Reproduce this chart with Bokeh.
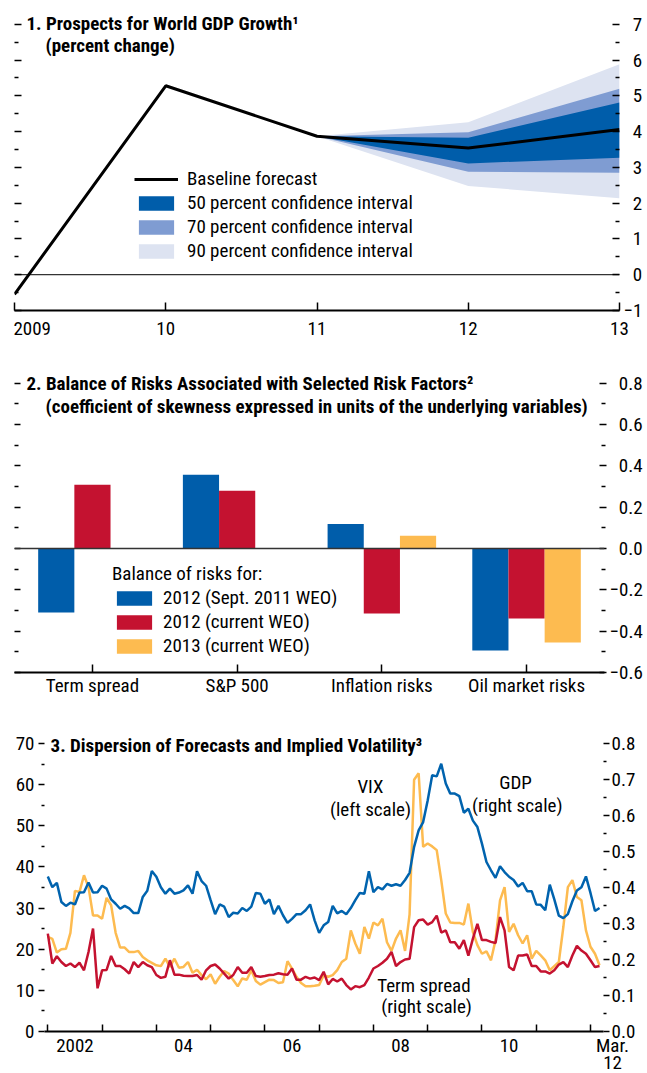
import numpy as np
from bokeh.plotting import figure
from bokeh.models import (Range1d, LinearAxis, CategoricalAxis, FixedTicker, Label, Legend,
                          LegendItem, ColumnDataSource, FactorRange, Span)
from bokeh.embed import file_html
from bokeh.resources import INLINE
from bokeh.transform import dodge

try:
    from bokeh.models import GlobalInlineStyleSheet
    PAGE_SHEETS = [GlobalInlineStyleSheet(css="html, body { overflow: hidden; }")]
except ImportError:
    PAGE_SHEETS = []

FONT = "Roboto Condensed"
FS = "19px"

# ---------------- Panel 1 data ----------------
years1 = [2009, 2010, 2011, 2012, 2013]
year_labels1 = ["\u2007\u20092009", "10", "11", "12", "13"]
baseline = [-0.55, 5.28, 3.87, 3.54, 4.06]
band_years = [2011, 2012, 2013]
ci50_low = [3.87, 3.11, 3.27]
ci50_high = [3.87, 3.83, 4.81]
ci70_low = [3.87, 2.88, 2.85]
ci70_high = [3.87, 3.98, 5.20]
ci90_low = [3.87, 2.48, 2.14]
ci90_high = [3.87, 4.26, 5.88]
ticks1 = [-1, 0, 1, 2, 3, 4, 5, 6, 7]
tick_labels1 = ["\u22121", "\u20070", "\u20071", "\u20072", "\u20073", "\u20074", "\u20075", "\u20076", "\u20077"]
minor1 = [-0.5, 0.5, 1.5, 2.5, 3.5, 4.5, 5.5, 6.5]

# ---------------- Panel 2 data ----------------
cats = ["Term spread", "S&P 500", "Inflation risks", "Oil market risks"]
sept2011_for_2012 = [-0.31, 0.357, 0.119, -0.493]
current_for_2012 = [0.308, 0.279, -0.314, -0.339]
current_for_2013 = [np.nan, np.nan, 0.061, -0.455]
ticks2 = [-0.6, -0.4, -0.2, 0.0, 0.2, 0.4, 0.6, 0.8]
tick_labels2 = ["\u22120.6", "\u22120.4", "\u22120.2", "\u20070.0", "\u20070.2", "\u20070.4", "\u20070.6", "\u20070.8"]
minor2 = [-0.5, -0.3, -0.1, 0.1, 0.3, 0.5, 0.7]

# ---------------- Panel 3 data (monthly, Jan 2002 - Mar 2012) ----------------
vix = [
    23.0, 22.5, 19.2, 20.0, 20.1, 24.0, 34.2, 33.9, 38.0, 35.1, 28.2, 28.2,   # 2002
    27.4, 32.5, 30.7, 24.0, 20.4, 20.4, 19.3, 19.3, 19.6, 18.1, 17.3, 16.7,   # 2003
    16.1, 15.9, 17.7, 15.7, 17.7, 15.5, 15.7, 16.9, 14.3, 15.0, 13.7, 12.7,   # 2004
    13.9, 11.6, 13.3, 14.7, 14.1, 12.5, 11.0, 12.9, 12.6, 14.9, 12.3, 11.4,   # 2005
    12.0, 12.6, 12.5, 11.8, 12.0, 17.1, 15.3, 13.3, 11.8, 11.0, 11.0, 11.1,   # 2006
    11.3, 13.7, 13.3, 13.7, 14.9, 16.9, 17.7, 24.6, 21.4, 18.9, 25.4, 22.6,   # 2007
    26.5, 25.8, 27.4, 21.7, 19.6, 22.6, 24.6, 19.6, 28.5, 61.2, 62.8, 44.9,   # 2008
    45.7, 45.0, 44.1, 36.8, 28.7, 26.5, 26.4, 26.4, 26.0, 31.1, 24.2, 21.0,   # 2009
    18.9, 19.5, 17.3, 22.2, 31.9, 35.1, 24.2, 26.2, 23.4, 21.4, 23.4, 17.7,   # 2010
    19.6, 18.5, 17.3, 14.9, 15.9, 16.9, 25.4, 35.1, 36.8, 32.7, 31.9, 24.6,   # 2011
    20.6, 18.9, 16.1,                                                         # 2012
]
gdp_dispersion = [
    0.431, 0.401, 0.413, 0.360, 0.349, 0.358, 0.353, 0.386, 0.387, 0.414, 0.386, 0.387,
    0.405, 0.397, 0.367, 0.355, 0.341, 0.349, 0.342, 0.329, 0.329, 0.374, 0.391, 0.446,
    0.430, 0.401, 0.383, 0.397, 0.383, 0.386, 0.392, 0.406, 0.383, 0.445, 0.418, 0.405,
    0.365, 0.326, 0.353, 0.347, 0.318, 0.330, 0.328, 0.343, 0.335, 0.347, 0.385, 0.383,
    0.355, 0.367, 0.326, 0.349, 0.323, 0.302, 0.313, 0.326, 0.326, 0.337, 0.353, 0.309,
    0.274, 0.295, 0.304, 0.349, 0.328, 0.335, 0.326, 0.343, 0.365, 0.385, 0.383, 0.445,
    0.387, 0.401, 0.395, 0.410, 0.405, 0.409, 0.405, 0.421, 0.441, 0.513, 0.559, 0.582,
    0.642, 0.712, 0.709, 0.744, 0.689, 0.661, 0.661, 0.654, 0.608, 0.619, 0.586, 0.568,
    0.522, 0.471, 0.448, 0.427, 0.459, 0.443, 0.430, 0.421, 0.403, 0.413, 0.390, 0.390,
    0.353, 0.352, 0.337, 0.408, 0.367, 0.322, 0.315, 0.326, 0.362, 0.392, 0.401, 0.431,
    0.385, 0.335, 0.343,
]
term_spread_dispersion = [
    0.272, 0.189, 0.209, 0.193, 0.182, 0.189, 0.179, 0.191, 0.170, 0.221, 0.286, 0.120,
    0.170, 0.171, 0.210, 0.182, 0.182, 0.173, 0.161, 0.193, 0.179, 0.193, 0.184, 0.179,
    0.157, 0.149, 0.152, 0.198, 0.158, 0.158, 0.155, 0.154, 0.154, 0.157, 0.144, 0.170,
    0.182, 0.186, 0.175, 0.161, 0.147, 0.157, 0.179, 0.163, 0.163, 0.179, 0.154, 0.152,
    0.154, 0.157, 0.158, 0.162, 0.159, 0.158, 0.175, 0.144, 0.144, 0.152, 0.147, 0.150,
    0.143, 0.166, 0.131, 0.146, 0.139, 0.147, 0.129, 0.117, 0.126, 0.123, 0.129, 0.150,
    0.175, 0.182, 0.191, 0.202, 0.221, 0.182, 0.193, 0.200, 0.202, 0.290, 0.309, 0.311,
    0.297, 0.304, 0.322, 0.275, 0.281, 0.248, 0.248, 0.230, 0.254, 0.211, 0.258, 0.299,
    0.254, 0.254, 0.249, 0.246, 0.318, 0.281, 0.179, 0.170, 0.211, 0.211, 0.214, 0.182,
    0.182, 0.167, 0.167, 0.161, 0.170, 0.186, 0.193, 0.179, 0.211, 0.238, 0.225, 0.216,
    0.198, 0.179, 0.182,
]
months3 = [2002 + i / 12.0 for i in range(len(vix))]
year_ticks3 = [2002, 2003, 2004, 2005, 2006, 2007, 2008, 2009, 2010, 2011, 2012]
label_pos3 = [2002.5, 2004.5, 2006.5, 2008.5, 2010.5, 2012.235]
label_txt3 = ["2002", "04", "06", "08", "10", "\u2007\u2007Mar.\n\u2007\u200712"]
left_ticks3 = [0, 10, 20, 30, 40, 50, 60, 70]
left_minor3 = [5, 15, 25, 35, 45, 55, 65]
right_ticks3 = [0.0, 0.1, 0.2, 0.3, 0.4, 0.5, 0.6, 0.7, 0.8]
right_labels3 = ["0.0", "0.1", "0.2", "0.3", "0.4", "0.5", "0.6", "0.7", "0.8"]
right_minor3 = [0.05, 0.15, 0.25, 0.35, 0.45, 0.55, 0.65, 0.75]

# colours
DARK = "#005DAA"
MID = "#7F9CD2"
LIGHT = "#DDE3F1"
RED = "#C41230"
YEL = "#FDBB50"
BLUE_L = "#0063AE"


def base_fig(**kw):
    p = figure(output_backend="svg", toolbar_location=None, x_axis_location=None,
               y_axis_location=None, **kw)
    p.outline_line_color = None
    p.grid.visible = False
    p.background_fill_color = "white"
    p.border_fill_color = "white"
    return p


def style_axis(ax, size=FS):
    ax.major_label_text_font = FONT
    ax.major_label_text_font_size = size
    ax.major_label_text_color = "black"
    ax.major_tick_line_color = "black"
    ax.minor_tick_line_color = "black"
    ax.axis_line_color = "black"
    return ax


def side_axis(ticks, minor, labels, tin, tout, min_in, min_out, standoff, **kw):
    ax = style_axis(LinearAxis(ticker=FixedTicker(ticks=ticks, minor_ticks=minor),
                               major_label_overrides=dict(zip(ticks, labels)), **kw))
    ax.axis_line_alpha = 0
    ax.major_tick_in = tin
    ax.major_tick_out = tout
    ax.minor_tick_in = min_in
    ax.minor_tick_out = min_out
    ax.major_label_standoff = standoff
    ax.major_tick_line_width = 1.3
    ax.minor_tick_line_width = 1.3
    return ax


def txt(p, x, y, s, bold=False, size=FS, align="left", baseline="middle"):
    p.add_layout(Label(x=x, y=y, text=s, text_font=FONT, text_font_size=size,
                       text_font_style="bold" if bold else "normal", text_align=align,
                       text_baseline=baseline, text_color="black"))

# ================= Panel 1 =================
p1 = base_fig(width=647, height=350, x_range=Range1d(2009, 2013), y_range=Range1d(-1, 7.3),
              min_border_left=14, min_border_right=28, min_border_top=13, min_border_bottom=40)
if PAGE_SHEETS:
    p1.stylesheets = PAGE_SHEETS

r90 = p1.varea(x=band_years, y1=ci90_low, y2=ci90_high, fill_color=LIGHT)
r70 = p1.varea(x=band_years, y1=ci70_low, y2=ci70_high, fill_color=MID)
r50 = p1.varea(x=band_years, y1=ci50_low, y2=ci50_high, fill_color=DARK)
p1.add_layout(Span(location=0, dimension="width", line_color="black", line_width=1))
rl = p1.line(years1, baseline, line_color="black", line_width=3)

xa1 = style_axis(LinearAxis(ticker=FixedTicker(ticks=years1, minor_ticks=[]),
                            major_label_overrides=dict(zip(years1, year_labels1))))
xa1.major_tick_in = 8
xa1.major_tick_out = 0
xa1.axis_line_width = 2
xa1.major_tick_line_width = 1.5
xa1.major_label_standoff = 6
p1.add_layout(xa1, "below")

p1.add_layout(side_axis(ticks1, minor1, [""] * len(ticks1), 7, 0, 4, 0, 0), "left")
p1.add_layout(side_axis(ticks1, minor1, tick_labels1, 7, 0, 4, 0, 4), "right")

txt(p1, 2009.079, 7.02, "1. Prospects for World GDP Growth\u00b9", bold=True)
txt(p1, 2009.205, 6.40, "(percent change)", bold=True)

leg1 = Legend(items=[LegendItem(label="Baseline forecast", renderers=[rl]),
                     LegendItem(label="50 percent confidence interval", renderers=[r50]),
                     LegendItem(label="70 percent confidence interval", renderers=[r70]),
                     LegendItem(label="90 percent confidence interval", renderers=[r90])],
              location=(120, 48), orientation="vertical", glyph_width=44, glyph_height=18,
              label_height=18, spacing=1, label_standoff=9, padding=0, margin=0,
              border_line_alpha=0, background_fill_alpha=0,
              label_text_font=FONT, label_text_font_size=FS, label_text_color="black")
p1.add_layout(leg1)

# ================= Panel 2 =================
p2 = base_fig(width=647, height=353,
              x_range=FactorRange(factors=cats, range_padding=0.0386, range_padding_units="absolute"),
              y_range=Range1d(-0.6, 0.861),
              min_border_left=14, min_border_right=43, min_border_top=20, min_border_bottom=31)
src2 = ColumnDataSource(dict(cat=cats, a=sept2011_for_2012, b=current_for_2012, c=current_for_2013))
ba = p2.vbar(x=dodge("cat", -0.25, range=p2.x_range), top="a", bottom=0, width=0.25,
             source=src2, fill_color=DARK, line_color=None)
bb = p2.vbar(x=dodge("cat", 0.0, range=p2.x_range), top="b", bottom=0, width=0.25,
             source=src2, fill_color=RED, line_color=None)
bc = p2.vbar(x=dodge("cat", 0.25, range=p2.x_range), top="c", bottom=0, width=0.25,
             source=src2, fill_color=YEL, line_color=None)
p2.add_layout(Span(location=0, dimension="width", line_color="#333333", line_width=1.5))

xa2 = style_axis(CategoricalAxis())
xa2.major_tick_in = 8
xa2.major_tick_out = 0
xa2.axis_line_width = 2
xa2.major_tick_line_width = 1.5
xa2.major_label_standoff = 1
p2.add_layout(xa2, "below")

p2.add_layout(side_axis(ticks2, minor2, [""] * len(ticks2), 6, 0, 4, 0, 0), "left")
p2.add_layout(side_axis(ticks2, minor2, tick_labels2, 5, 2, 3, 1, 3), "right")

txt(p2, 0.044, 0.80, "2. Balance of Risks Associated with Selected Risk Factors\u00b2", bold=True)
txt(p2, 0.176, 0.687, "(coefficient of skewness expressed in units of the underlying variables)", bold=True)

leg2 = Legend(items=[LegendItem(label="2012 (Sept. 2011 WEO)", renderers=[ba]),
                     LegendItem(label="2012 (current WEO)", renderers=[bb]),
                     LegendItem(label="2013 (current WEO)", renderers=[bc])],
              title="Balance of risks for:", title_text_font=FONT, title_text_font_size=FS,
              title_text_font_style="normal", title_text_color="black", title_standoff=1,
              location=(98, 15), orientation="vertical", glyph_width=44, glyph_height=18,
              label_height=18, spacing=1, label_standoff=7, padding=0, margin=0,
              border_line_alpha=0, background_fill_alpha=0,
              label_text_font=FONT, label_text_font_size=FS, label_text_color="black")
p2.add_layout(leg2)

# ================= Panel 3 =================
p3 = base_fig(width=647, height=381, x_range=Range1d(2001.939, 2012.24), y_range=Range1d(0, 71.97),
              min_border_left=44, min_border_right=44, min_border_top=32, min_border_bottom=53)
p3.extra_y_ranges = {"right": Range1d(0, 0.8225)}

p3.line(months3, vix, line_color=YEL, line_width=2.5)
p3.line(months3, gdp_dispersion, line_color=BLUE_L, line_width=2.5, y_range_name="right")
p3.line(months3, term_spread_dispersion, line_color=RED, line_width=2.5, y_range_name="right")

xa3 = style_axis(LinearAxis(ticker=FixedTicker(ticks=label_pos3, minor_ticks=year_ticks3),
                            major_label_overrides=dict(zip(label_pos3, label_txt3))))
xa3.major_tick_in = 0
xa3.major_tick_out = 0
xa3.minor_tick_in = 7
xa3.minor_tick_out = 0
xa3.axis_line_width = 2
xa3.minor_tick_line_width = 1.5
xa3.major_label_standoff = 2
xa3.major_label_text_line_height = 0.75
p3.add_layout(xa3, "below")

p3.add_layout(side_axis(left_ticks3, left_minor3, [str(t) for t in left_ticks3], 0, 6, 0, 3, 4), "left")
p3.add_layout(side_axis(right_ticks3, right_minor3, right_labels3, 0, 6, 0, 3, 2,
                        y_range_name="right"), "right")

txt(p3, 2002.05, 69.6, "3. Dispersion of Forecasts and Implied Volatility\u00b3", bold=True)
txt(p3, 2007.946, 59.45, "VIX", align="center")
txt(p3, 2007.946, 54.0, "(left scale)", align="center")
txt(p3, 2010.62, 60.66, "GDP", align="center")
txt(p3, 2010.65, 55.06, "(right scale)", align="center")
txt(p3, 2008.93, 11.23, "Term spread", align="center")
txt(p3, 2008.98, 5.96, "(right scale)", align="center")

open("out.html", "w").write(file_html([p1, p2, p3], INLINE))
